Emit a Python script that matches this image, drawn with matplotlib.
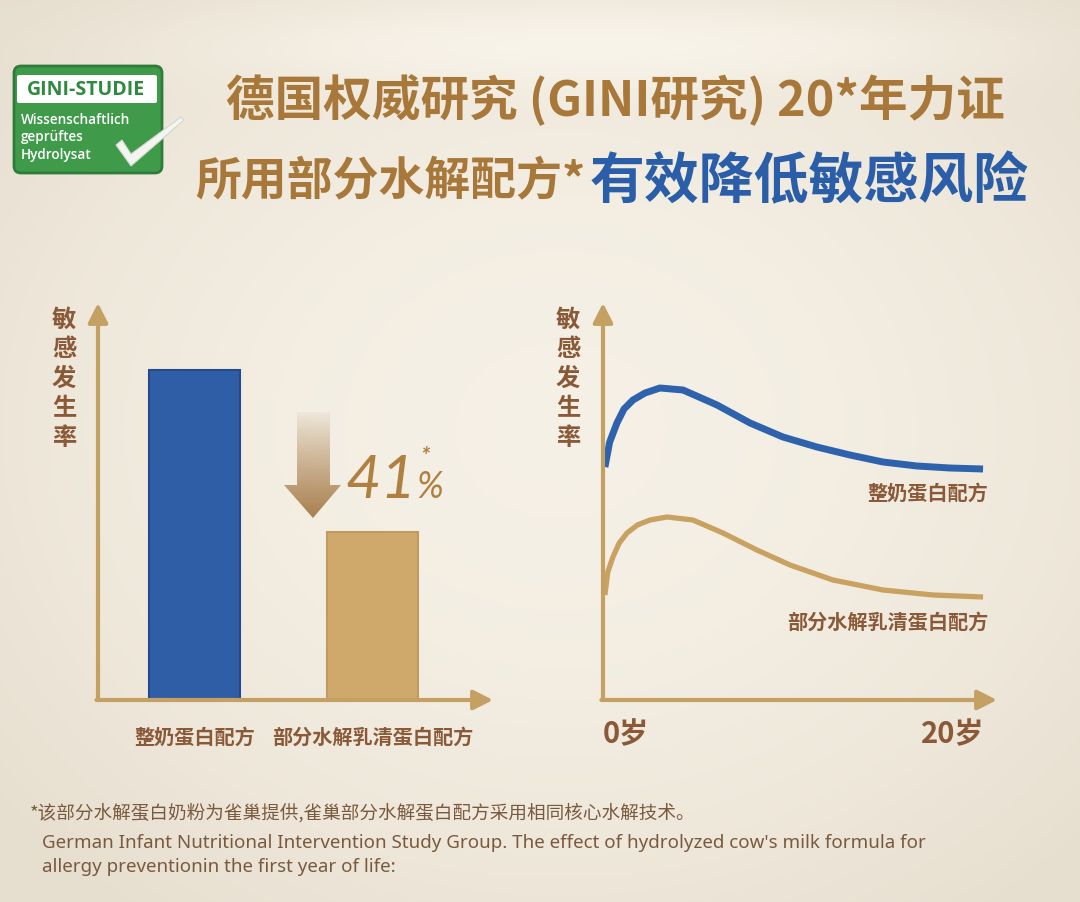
import matplotlib
matplotlib.use("Agg")
import matplotlib.pyplot as plt
import numpy as np
from matplotlib.patches import FancyBboxPatch, Polygon

plt.rcParams['font.family'] = ['Noto Sans CJK SC', 'DejaVu Sans']

# ---- data ----
bar_labels = ['整奶蛋白配方', '部分水解乳清蛋白配方']
bar_values = [100, 51]          # relative incidence (whole milk = 100)
reduction_text = '41'

age_ticks = [0, 20]
age_labels = ['0岁', '20岁']
# incidence curves (age in years, arbitrary units)
blue_x = [0.1, 0.35, 0.73, 1.1, 1.57, 2.2, 2.98, 4.19, 5.97, 7.7, 9.42, 11.2, 12.93, 14.66, 16.44, 18.17, 19.9]
blue_y = [233, 258, 277, 291, 300, 307, 312, 310, 295, 277, 263, 253, 245, 238, 234, 232, 231]
tan_x = [0.1, 0.25, 0.52, 0.85, 1.26, 1.8, 2.46, 3.35, 4.71, 6.28, 8.06, 9.79, 12.04, 14.66, 17.28, 19.9]
tan_y = [105, 128, 143, 157, 167, 175, 180, 183, 180, 167, 150, 135, 120, 110, 105, 103]
curve_labels = ['整奶蛋白配方', '部分水解乳清蛋白配方']

title1 = '德国权威研究 (GINI研究) 20*年力证'
title2a = '所用部分水解配方*'
title2b = '有效降低敏感风险'
ylabel = '敏感发生率'
note_cn = '*该部分水解蛋白奶粉为雀巢提供,雀巢部分水解蛋白配方采用相同核心水解技术。'
note_en = ["German Infant Nutritional Intervention Study Group. The effect of hydrolyzed cow's milk formula for",
           "allergy preventionin the first year of life:"]

gold = '#c4a063'
brown = '#8a5a38'
blue = '#2f5ea6'
tan = '#cfa86c'

W, H = 1080, 902
fig = plt.figure(figsize=(W / 100, H / 100), dpi=100)

# background (pixel coordinates)
bg = fig.add_axes([0, 0, 1, 1], zorder=0)
bg.set_xlim(0, W)
bg.set_ylim(H, 0)
bg.axis('off')
yy, xx = np.mgrid[0:H, 0:W]
r = np.sqrt(((xx - 560) / 720.0) ** 2 + ((yy - 430) / 600.0) ** 2)
r = np.clip(r, 0, 1) ** 2
c_in = np.array([0.962, 0.942, 0.900])
c_out = np.array([0.905, 0.872, 0.812])
img = c_in[None, None, :] * (1 - r[..., None]) + c_out[None, None, :] * r[..., None]
# soft glow below the top edge
glow = np.exp(-((yy - 45) / 40.0) ** 2 - ((xx - 600) / 380.0) ** 2)
img = img + glow[..., None] * (np.array([0.99, 0.975, 0.94]) - img) * 0.7
bg.imshow(img, extent=[0, W, H, 0], aspect='auto', zorder=0)

# badge
bg.add_patch(FancyBboxPatch((14, 66), 148, 107, boxstyle='round,pad=0,rounding_size=7',
                            fc='#3f9a4a', ec='#2f7c3a', lw=2, zorder=2))
bg.add_patch(FancyBboxPatch((17, 75), 140, 28, boxstyle='round,pad=0,rounding_size=2',
                            fc='white', ec='none', zorder=3))
bg.text(86, 90, 'GINI-STUDIE', family='Open Sans', fontsize=14, fontweight='bold',
        color='#2e8a3c', ha='center', va='center', zorder=4)
for i, t in enumerate(['Wissenschaftlich', 'geprüftes', 'Hydrolysat']):
    bg.text(21, 120 + i * 17.5, t, family='Open Sans', fontsize=9.8, fontweight='semibold',
            color='white', ha='left', va='center', zorder=4)
bg.add_patch(Polygon([(116, 145), (122, 140), (131, 154), (181, 117), (184, 120), (131, 166)],
                     closed=True, fc='#f4f4f0', ec='#cfd8cf', lw=0.8, zorder=4))

# titles
bg.text(615, 100, title1, fontsize=35, fontweight='bold', color='#a8783a',
        ha='center', va='center', zorder=3)
bg.text(585, 182, title2a, fontsize=33, fontweight='bold', color='#a8783a',
        ha='right', va='center', zorder=3)
bg.text(590, 182, title2b, fontsize=39.5, fontweight='black', color='#2a5ea8',
        ha='left', va='center', zorder=3)

# footnotes
bg.text(30, 813, note_cn, fontsize=13.4, color='#7a5a3e', ha='left', va='center', zorder=3)
for i, t in enumerate(note_en):
    bg.text(42, 843 + i * 24, t, family='Noto Sans', fontsize=13.5, color='#7a5a3e',
            ha='left', va='center', zorder=3)

# vertical axis labels
for x0 in (64, 568):
    for i, ch in enumerate(ylabel):
        bg.text(x0, 320 + i * 29.5, ch, fontsize=17.5, fontweight='bold', color=brown,
                ha='center', va='center', zorder=3)

# reduction arrow with fade
arrow = Polygon([(297, 412), (330, 412), (330, 485), (341, 485), (313, 518), (284, 485), (297, 485)],
                closed=True, fc='none', ec='none', zorder=3)
bg.add_patch(arrow)
grad = np.zeros((100, 2, 4))
grad[..., 0], grad[..., 1], grad[..., 2] = 0.65, 0.48, 0.28
grad[..., 3] = np.linspace(0.04, 0.95, 100)[:, None] ** 0.9
im = bg.imshow(grad, extent=[284, 342, 518, 412], origin='upper', aspect='auto', zorder=3)
im.set_clip_path(arrow)
bg.text(345, 498, reduction_text, family='Lato', style='italic', fontweight='normal',
        fontsize=44, color='#b08040', ha='left', va='baseline', zorder=3)
bg.text(420, 465, '*', family='Lato', style='italic', fontweight='bold', fontsize=17, color='#b08040',
        ha='left', va='baseline', zorder=3)
bg.text(416, 498, '%', family='Lato', style='italic', fontweight='normal',
        fontsize=26, color='#b08040', ha='left', va='baseline', zorder=3)


def axis_arrows(ax):
    for s in ax.spines.values():
        s.set_visible(False)
    ap = dict(arrowstyle='-|>,head_length=0.65,head_width=0.33', color=gold, lw=3,
              mutation_scale=18, shrinkA=0, shrinkB=0)
    ax.annotate('', xy=(0, 1), xytext=(0, 0), xycoords='axes fraction', arrowprops=ap,
                annotation_clip=False)
    ax.annotate('', xy=(1, 0), xytext=(-0.004, 0), xycoords='axes fraction', arrowprops=ap,
                annotation_clip=False)
    ax.set_yticks([])


# left: bar chart
ax1 = fig.add_axes([98 / W, 1 - 700 / H, 395 / W, 397 / H], zorder=2)
ax1.patch.set_alpha(0)
ax1.bar([0, 1], bar_values, width=0.51, color=[blue, tan],
        edgecolor=['#25498a', '#c09a60'], linewidth=1.5, zorder=2)
ax1.set_xlim(-0.542, 1.677)
ax1.set_ylim(0, 120.3)
ax1.set_xticks([0, 1], bar_labels)
ax1.tick_params(axis='x', length=0, pad=19)
for lab in ax1.get_xticklabels():
    lab.set_fontsize(14.5)
    lab.set_fontweight('bold')
    lab.set_color(brown)
axis_arrows(ax1)

# right: curves
ax2 = fig.add_axes([603 / W, 1 - 700 / H, 394 / W, 397 / H], zorder=2)
ax2.patch.set_alpha(0)
ax2.plot(blue_x, blue_y, color='#2f62ad', lw=5, solid_capstyle='butt',
         solid_joinstyle='round', zorder=3)
ax2.plot(tan_x, tan_y, color='#c9a262', lw=3.8, solid_capstyle='butt',
         solid_joinstyle='round', zorder=3)
ax2.set_xlim(0, 20.63)
ax2.set_ylim(0, 397)
ax2.text(20.16, 207, curve_labels[0], fontsize=14.5, fontweight='bold', color=brown,
         ha='right', va='center')
ax2.text(20.16, 78, curve_labels[1], fontsize=14.5, fontweight='bold', color=brown,
         ha='right', va='center')
ax2.set_xticks(age_ticks, age_labels)
ax2.tick_params(axis='x', length=0, pad=14)
xl = ax2.get_xticklabels()
xl[0].set_ha('left')
xl[1].set_ha('right')
for lab in xl:
    lab.set_fontsize(21)
    lab.set_fontweight('bold')
    lab.set_color(brown)
axis_arrows(ax2)

fig.savefig('out.png', dpi=100)
